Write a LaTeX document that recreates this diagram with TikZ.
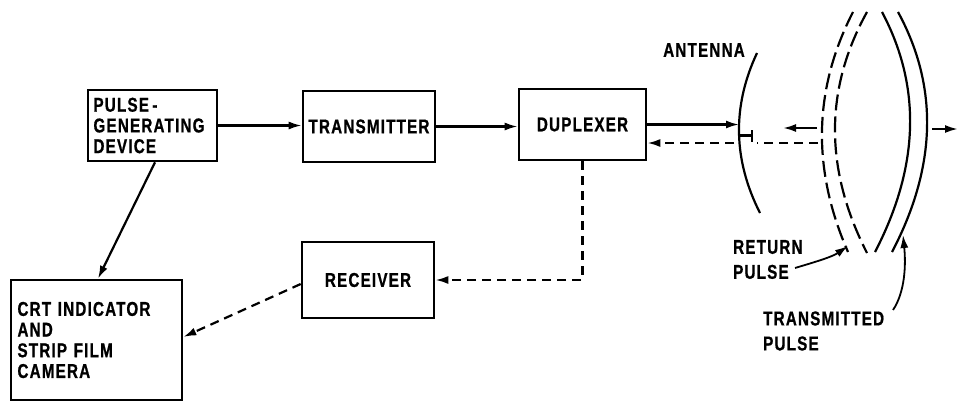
\documentclass[tikz,border=0pt]{standalone}
\usepackage{fontspec}
\setmainfont{Liberation Sans}[FakeStretch=0.76,LetterSpace=6,BoldFeatures={FakeBold=0.8}]
\usetikzlibrary{arrows.meta,calc}

\begin{document}
\begin{tikzpicture}[x=1pt,y=-1pt,
  lettering/.style={font=\fontsize{20}{20.7}\selectfont\bfseries},
  caption/.style={font=\fontsize{20}{25}\selectfont\bfseries,align=left,inner sep=0pt},
  block/.style={draw,line width=2.6pt,lettering,inner sep=0pt},
  flow/.style={line width=2.2pt,-{Latex[length=13pt,width=8pt]}},
  echo/.style={flow,dash pattern=on 9pt off 6pt},
  wave/.style={line width=2.2pt},
  dashwave/.style={wave,dash pattern=on 16pt off 6pt},
  ]
\useasboundingbox (0,0) rectangle (958,402);

% ---- blocks
\node[block,minimum width=129pt,minimum height=71pt,text width=118pt,align=left]
  (pgd) at (152.5,125.5) {PULSE\,-\\GENERATING\\DEVICE};
\node[block,minimum width=132pt,minimum height=71pt] (tx) at (369,126.5) {TRANSMITTER};
\node[block,minimum width=127pt,minimum height=71pt] (dup) at (582.5,124.5) {DUPLEXER};
\node[block,minimum width=132pt,minimum height=76pt] (rx) at (368,280) {RECEIVER};
\node[block,minimum width=171pt,minimum height=120pt,text width=158pt,align=left]
  (crt) at (96.5,340) {CRT INDICATOR\\AND\\STRIP FILM\\CAMERA};

% ---- signal paths between blocks
\draw[flow] (pgd.east) -- (pgd.east -| tx.west);
\draw[flow] (tx.east) -- (tx.east -| dup.west);
\draw[flow] ([xshift=2.5pt]pgd.south) -- ([xshift=1.5pt]crt.north);
\draw[echo] (dup.south) |- (rx.east);
\draw[echo] ([yshift=-4pt]rx.west) -- ([yshift=3pt]crt.east);

% ---- antenna dish
\coordinate (antT) at (757,53);
\coordinate (antB) at (760,213);
\draw[wave] (antT) .. controls (732,106.3) and (733,159.7) .. (antB);
\node[caption] (antlabel) at (704,50) {ANTENNA};

\coordinate (feed) at (739,126);
\draw[flow] (dup.east) -- (dup.east -| feed);
\coordinate (echoin) at (734,143);
\draw[echo] (echoin) -- (echoin -| dup.east);

% stub behind the dish
\coordinate (stubA) at (740,135.5);
\coordinate (stubB) at (752,135.5);
\coordinate (barT) at (752,130);
\coordinate (barB) at (752,142);
\draw[wave] (stubA) -- (stubB);
\draw[wave] (barT) -- (barB);
\coordinate (echoA) at (818,143);
\coordinate (echoB) at (757,143);
\draw[wave,dash pattern=on 9pt off 6pt] (echoA) -- (echoB);

% returning / outgoing direction marks
\coordinate (backA) at (817,128);
\coordinate (backB) at (783,128);
\draw[flow] (backA) -- (backB);
\coordinate (outA) at (932,129);
\coordinate (outB) at (958,129);
\draw[flow] (outA) -- (outB);

% ---- wave fronts: return pulse (dashed) and transmitted pulse (solid)
\draw[dashwave] (853,12) .. controls (813.3,89.3) and (811.7,169.3) .. (848,252);
\draw[dashwave] (867,12) .. controls (824.3,89) and (824.3,169.3) .. (867,253);
\draw[wave] (882,12) .. controls (921.7,86.7) and (919.3,166.7) .. (875,252);
\draw[wave] (898,12) .. controls (938.7,86.7) and (936.7,166.7) .. (892,252);

% ---- captions with leaders
\node[caption,anchor=west] (retlabel) at (733,259.5) {RETURN\\PULSE};
\node[caption,anchor=west] (trlabel) at (763,331) {TRANSMITTED\\PULSE};
\coordinate (retfrom) at (795,268);
\coordinate (retto) at (848,246);
\draw[flow,line width=1.8pt] (retfrom) .. controls (815,262) and (832,257) .. (retto);
\coordinate (trfrom) at (893,310);
\coordinate (trto) at (903,235);
\draw[flow,line width=1.8pt] (trfrom) .. controls (905,292) and (906,265) .. (trto);
\end{tikzpicture}
\end{document}
